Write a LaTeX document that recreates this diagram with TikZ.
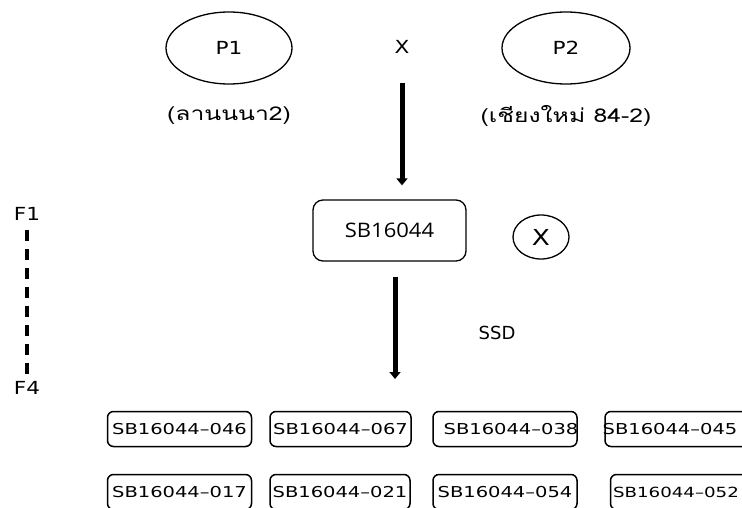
\documentclass[tikz,border=0pt]{standalone}
\usepackage{fontspec}
\setmainfont{DejaVu Sans}
\newfontfamily\widefont[FakeStretch=1.2]{DejaVu Sans}
\newfontfamily\boxfont[FakeStretch=1.3]{DejaVu Sans}
\newfontfamily\lightfont[FakeStretch=1.1]{Open Sans}
\newfontfamily\thaifont[Script=Thai,FakeStretch=1.3]{Loma}
\usetikzlibrary{arrows.meta,shapes.geometric}
\begin{document}
\begin{tikzpicture}[x=1pt,y=-1pt,
  parent/.style={draw, line width=1.3pt, ellipse, inner sep=0pt, font=\widefont\fontsize{18}{20}\selectfont},
  lbl/.style={inner sep=1pt, font=\widefont\fontsize{18}{20}\selectfont},
  thailbl/.style={inner sep=1pt, font=\thaifont\fontsize{19}{22}\selectfont},
  cross/.style={draw, line width=1.3pt, ellipse, minimum width=56pt, minimum height=44pt, inner sep=0pt, font=\widefont\fontsize{22}{24}\selectfont},
  mainbox/.style={draw, line width=1.3pt, rounded corners=10pt, minimum width=153pt, minimum height=61pt, inner sep=0pt, font=\lightfont\fontsize{20}{22}\selectfont},
  line/.style={draw, line width=1.5pt, rounded corners=6pt, minimum height=35pt, inner sep=0pt, font=\boxfont\fontsize{15}{18}\selectfont},
  bigarrow/.style={line width=5pt, -{Triangle[width=11pt,length=7pt]}},
  dashline/.style={line width=3.5pt, dash pattern=on 11pt off 8pt}
]
\useasboundingbox (0,0) rectangle (742,508);
\clip (0,0) rectangle (742,508);

\node[parent, minimum width=126pt, minimum height=72pt] (p1) at (229,48) {P1};
\node[parent, minimum width=128pt, minimum height=72pt] (p2) at (566,48) {P2};
\node[lbl] (x1) at (402,47) {X};
\node[thailbl] (t1) at (229,116) {(ลานนนา2)};
\node[thailbl] (t2) at (566,116) {(เชียงใหม่ 84-2)};

\node[mainbox] (b) at (389.5,230.5) {SB16044};
\node[cross] (cx) at (541,237) {X};

\coordinate (a2e) at (395,379);
\draw[bigarrow, shorten <=28pt, shorten >=14pt] (x1) -- (x1 |- b.north);
\draw[bigarrow, shorten <=15pt] (a2e |- b.south) -- (a2e);
\node[lbl, font=\fontsize{18}{20}\selectfont] (ssd) at (497,333) {SSD};

\node[lbl] (f1) at (27,214) {F1};
\node[lbl] (f4) at (27,388) {F4};
\draw[dashline, shorten <=8pt, shorten >=6pt] (f1.south) -- (f4.north);

\node[line, minimum width=144pt] (c1) at (179.5,429) {SB16044–046};
\node[line, minimum width=141pt] (c2) at (340.5,429) {SB16044–067};
\node[line, minimum width=144pt] (c3) at (505,429) {\hspace*{6pt}SB16044–038\hspace*{-6pt}};
\node[line, minimum width=150pt] (c4) at (680,429) {\hspace*{-10pt}SB16044–045\hspace*{10pt}};
\node[line, minimum width=144pt] (c5) at (179.5,492) {SB16044–017};
\node[line, minimum width=140pt] (c6) at (340,492) {SB16044–021};
\node[line, minimum width=144pt] (c7) at (505,492) {SB16044–054};
\node[line, minimum width=145pt, font=\boxfont\fontsize{14}{18}\selectfont] (c8) at (683,492) {\hspace*{-7pt}SB16044–052\hspace*{7pt}};
\end{tikzpicture}
\end{document}
